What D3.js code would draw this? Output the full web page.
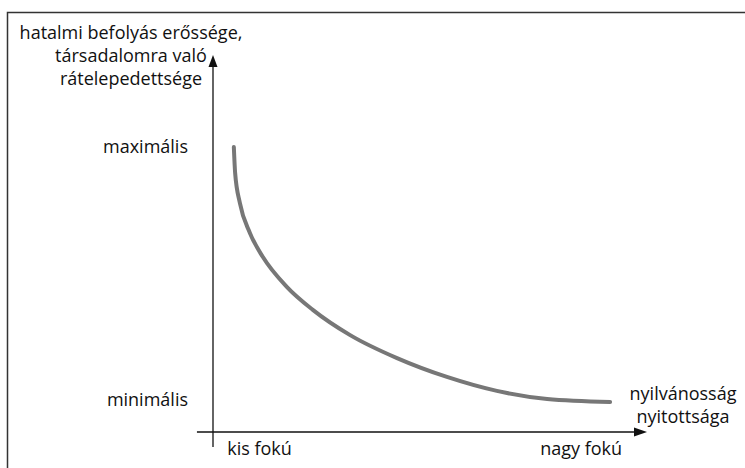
<!DOCTYPE html>
<html>
<head>
<meta charset="utf-8">
<script src="https://cdn.jsdelivr.net/npm/d3@7"></script>
<style>
  html, body { margin: 0; padding: 0; background: #fff; }
  svg { display: block; }
  text { font-family: "Open Sans", "Noto Sans", sans-serif; fill: #111; }
</style>
</head>
<body>
<svg id="chart" width="745" height="468"></svg>
<script>
// ---- data ----
const curveX = [4.8, 5.1, 6.2, 8.5, 11.5, 17.0, 23.0, 31.6, 42.4, 53.9, 65.4, 77.0, 91.5];
const curveY = [75.6, 68.7, 60.7, 52.8, 46.4, 38.5, 32.4, 25.7, 19.6, 14.6, 10.9, 8.75, 7.96];
const yTickValues = [75.6, 8.5];
const yTickLabels = ["maximális", "minimális"];
const xTickValues = [10.6, 84.7];
const xTickLabels = ["kis fokú", "nagy fokú"];
const yTitleLines = ["hatalmi befolyás erőssége,", "társadalomra való", "rátelepedettsége"];
const xTitleLines = ["nyilvánosság", "nyitottsága"];

// ---- layout ----
const svg = d3.select("#chart");
const x = d3.scaleLinear().domain([0, 100]).range([213, 647]);
const y = d3.scaleLinear().domain([0, 100]).range([432, 55]);
const FS = "18px";

// frame
svg.append("rect")
  .attr("x", 7.5).attr("y", 12.5)
  .attr("width", 800).attr("height", 500)
  .attr("fill", "none").attr("stroke", "#333").attr("stroke-width", 1.5);

// axes lines
svg.append("line")
  .attr("x1", x(0)).attr("x2", x(0))
  .attr("y1", y(-4)).attr("y2", y(97))
  .attr("stroke", "#111").attr("stroke-width", 1.3);
svg.append("line")
  .attr("x1", x(-3.7)).attr("x2", x(97))
  .attr("y1", y(0)).attr("y2", y(0))
  .attr("stroke", "#111").attr("stroke-width", 1.3);

// arrowheads
const yTip = [x(0), y(100)];
svg.append("path")
  .attr("d", `M${yTip[0]},${yTip[1]} L${yTip[0] - 4.5},${yTip[1] + 12} L${yTip[0] + 4.5},${yTip[1] + 12} Z`)
  .attr("fill", "#111");
const xTip = [x(100), y(0)];
svg.append("path")
  .attr("d", `M${xTip[0]},${xTip[1]} L${xTip[0] - 13},${xTip[1] - 4.5} L${xTip[0] - 13},${xTip[1] + 4.5} Z`)
  .attr("fill", "#111");

// y tick labels via axis
const yAxis = d3.axisLeft(y)
  .tickValues(yTickValues)
  .tickFormat((d, i) => yTickLabels[i])
  .tickSize(0).tickPadding(25);
const gy = svg.append("g").attr("transform", `translate(${x(0)},0)`).call(yAxis);
gy.select(".domain").remove();
gy.selectAll("text").style("font-size", FS).style("font-family", '"Open Sans", sans-serif').attr("fill", "#111");

// x tick labels via axis
const xAxis = d3.axisBottom(x)
  .tickValues(xTickValues)
  .tickFormat((d, i) => xTickLabels[i])
  .tickSize(0).tickPadding(10);
const gx = svg.append("g").attr("transform", `translate(0,${y(0)})`).call(xAxis);
gx.select(".domain").remove();
gx.selectAll("text").style("font-size", FS).style("font-family", '"Open Sans", sans-serif').attr("fill", "#111");

// y title
svg.append("text")
  .attr("text-anchor", "middle")
  .style("font-size", FS)
  .selectAll("tspan").data(yTitleLines).join("tspan")
  .attr("x", 131).attr("y", (d, i) => 39 + i * 23)
  .text(d => d);

// x title
svg.append("text")
  .attr("text-anchor", "middle")
  .style("font-size", FS)
  .selectAll("tspan").data(xTitleLines).join("tspan")
  .attr("x", 683).attr("y", (d, i) => 400 + i * 23)
  .text(d => d);

// curve
const pts = curveX.map((d, i) => [d, curveY[i]]);
const line = d3.line()
  .x(d => x(d[0])).y(d => y(d[1]))
  .curve(d3.curveMonotoneX);
svg.append("path")
  .datum(pts)
  .attr("d", line)
  .attr("fill", "none")
  .attr("stroke", "#777")
  .attr("stroke-width", 4)
  .attr("stroke-linecap", "round");
</script>
</body>
</html>
